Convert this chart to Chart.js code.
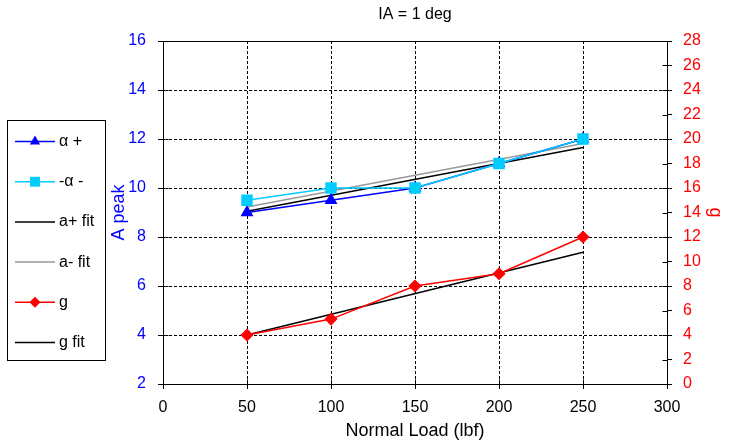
<!DOCTYPE html>
<html>
<head>
<meta charset="utf-8">
<script src="https://cdn.jsdelivr.net/npm/chart.js@4/dist/chart.umd.min.js"></script>
<style>
  html, body { margin: 0; padding: 0; background: #fff; }
  #wrap { width: 729px; height: 442px; }
</style>
</head>
<body>
<div id="wrap"><canvas id="c" width="729" height="442"></canvas></div>
<script>
// Measured peaks versus normal load
const loads = [50, 100, 150, 200, 250];
const alphaPlus = [9, 9.5, 10, 11, 12];
const alphaMinus = [9.5, 10, 10, 11, 12];
const gValues = [4, 5.3, 8, 9, 12];

// Straight-line fits, given at their end loads
const fitLoads = [50, 250];
const alphaPlusFit = [9.05, 11.65];
const alphaMinusFit = [9.22, 11.82];
const gFit = [4, 10.75];

// Axis tick settings
const xTicks = { min: 0, max: 300, step: 50 };
const leftTicks = { min: 2, max: 16, step: 2 };
const rightTicks = { min: 0, max: 28, step: 2 };

const FONT = "'Liberation Sans', Arial, sans-serif";

const pts = (xs, ys) => xs.map((x, i) => ({ x, y: ys[i] }));

function drawMarker(ctx, style, x, y, r, color) {
  ctx.save();
  ctx.fillStyle = color;
  ctx.beginPath();
  if (style === 'triangle') {
    ctx.moveTo(x, y - r);
    ctx.lineTo(x + r * Math.sin(2 * Math.PI / 3), y - r * Math.cos(2 * Math.PI / 3));
    ctx.lineTo(x + r * Math.sin(4 * Math.PI / 3), y - r * Math.cos(4 * Math.PI / 3));
    ctx.closePath();
  } else if (style === 'rect') {
    const s = r * Math.SQRT1_2;
    ctx.rect(x - s, y - s, 2 * s, 2 * s);
  } else if (style === 'rectRot') {
    ctx.moveTo(x, y - r); ctx.lineTo(x + r, y); ctx.lineTo(x, y + r); ctx.lineTo(x - r, y);
    ctx.closePath();
  }
  ctx.fill();
  ctx.restore();
}

// Solid frame round the plot and ticks that cross each axis line
const framePlugin = {
  id: 'frame',
  beforeDatasetsDraw(chart) {
    const { ctx, chartArea: a } = chart;
    ctx.save();
    ctx.strokeStyle = '#000';
    ctx.lineWidth = 1;
    const l = Math.round(a.left) + 0.5, t = Math.round(a.top) + 0.5;
    const r = Math.round(a.right) + 0.5, b = Math.round(a.bottom) + 0.5;
    ctx.strokeRect(l, t, r - l, b - t);
    ctx.beginPath();
    chart.scales.x.ticks.forEach(tk => {
      const px = Math.round(chart.scales.x.getPixelForValue(tk.value)) + 0.5;
      ctx.moveTo(px, b); ctx.lineTo(px, b - 5);
    });
    chart.scales.y.ticks.forEach(tk => {
      const py = Math.round(chart.scales.y.getPixelForValue(tk.value)) + 0.5;
      ctx.moveTo(l, py); ctx.lineTo(l + 5, py);
    });
    chart.scales.y2.ticks.forEach(tk => {
      const py = Math.round(chart.scales.y2.getPixelForValue(tk.value)) + 0.5;
      ctx.moveTo(r, py); ctx.lineTo(r - 5, py);
    });
    ctx.stroke();
    ctx.restore();
  }
};

// Boxed legend at the left side
const legendPlugin = {
  id: 'boxLegend',
  afterDraw(chart) {
    const { ctx } = chart;
    ctx.save();
    ctx.strokeStyle = '#000';
    ctx.lineWidth = 1;
    ctx.strokeRect(7.5, 120.5, 98, 240);
    ctx.font = '16px ' + FONT;
    ctx.textBaseline = 'middle';
    ctx.textAlign = 'left';
    chart.data.datasets.forEach((ds, i) => {
      const y = 141.5 + i * 40.2;
      ctx.strokeStyle = ds.borderColor;
      ctx.lineWidth = ds.borderWidth;
      ctx.beginPath();
      ctx.moveTo(15, y); ctx.lineTo(55, y);
      ctx.stroke();
      if (ds.pointRadius > 0) drawMarker(ctx, ds.pointStyle, 35, y, ds.pointRadius, ds.pointBackgroundColor);
      ctx.fillStyle = '#000';
      ctx.fillText(ds.label, 59, y);
    });
    ctx.restore();
  }
};

const tickFont = { family: FONT, size: 16 };

new Chart(document.getElementById('c'), {
  type: 'line',
  data: {
    datasets: [
      { label: 'α +', data: pts(loads, alphaPlus), yAxisID: 'y', borderColor: '#0000FF', backgroundColor: '#0000FF',
        pointBackgroundColor: '#0000FF', pointBorderColor: '#0000FF', borderWidth: 1.5, pointStyle: 'triangle', pointRadius: 6, order: 1 },
      { label: '-α -', data: pts(loads, alphaMinus), yAxisID: 'y', borderColor: '#00CCFF', backgroundColor: '#00CCFF',
        pointBackgroundColor: '#00CCFF', pointBorderColor: '#00CCFF', borderWidth: 1.5, pointStyle: 'rect', pointRadius: 7, order: 0 },
      { label: 'a+ fit', data: pts(fitLoads, alphaPlusFit), yAxisID: 'y', borderColor: '#000000',
        borderWidth: 1.5, pointRadius: 0, order: 3 },
      { label: 'a- fit', data: pts(fitLoads, alphaMinusFit), yAxisID: 'y', borderColor: '#999999',
        borderWidth: 1.5, pointRadius: 0, order: 4 },
      { label: 'g', data: pts(loads, gValues), yAxisID: 'y2', borderColor: '#FF0000', backgroundColor: '#FF0000',
        pointBackgroundColor: '#FF0000', pointBorderColor: '#FF0000', borderWidth: 1.5, pointStyle: 'rectRot', pointRadius: 5.5, order: 2 },
      { label: 'g fit', data: pts(fitLoads, gFit), yAxisID: 'y2', borderColor: '#000000',
        borderWidth: 1.5, pointRadius: 0, order: 5 }
    ]
  },
  options: {
    responsive: false,
    animation: false,
    devicePixelRatio: 1,
    layout: { padding: { left: 105, right: 0, top: 0, bottom: 0 }, autoPadding: false },
    elements: { line: { tension: 0, fill: false }, point: { borderWidth: 1, hoverRadius: 6 } },
    plugins: {
      legend: { display: false },
      tooltip: { enabled: false },
      title: { display: true, text: 'IA = 1 deg', fullSize: false, color: '#000',
        font: { family: FONT, size: 16, weight: 'normal' }, padding: { top: 5, bottom: 16.8 } }
    },
    scales: {
      x: {
        type: 'linear', position: 'bottom', min: xTicks.min, max: xTicks.max,
        ticks: { stepSize: xTicks.step, color: '#000', font: tickFont, padding: 9, maxRotation: 0 },
        grid: { color: '#000', lineWidth: 1, tickLength: 5, tickColor: '#000', tickBorderDash: [] },
        border: { display: true, color: '#000', width: 1, dash: [3, 2] },
        title: { display: true, text: 'Normal Load (lbf)', color: '#000', font: { family: FONT, size: 18 }, padding: { top: 0, bottom: 0 } },
        afterFit(s) { s.height = 58; }
      },
      y: {
        type: 'linear', position: 'left', min: leftTicks.min, max: leftTicks.max,
        ticks: { stepSize: leftTicks.step, color: '#0000FF', font: tickFont, padding: 12 },
        grid: { color: '#000', lineWidth: 1, tickLength: 5, tickColor: '#000', tickBorderDash: [] },
        border: { display: true, color: '#000', width: 1, dash: [3, 2] },
        title: { display: true, text: 'A peak', color: '#0000FF', font: { family: FONT, size: 18 }, padding: { top: 3, bottom: 0 } },
        afterFit(s) { s.width = 58; }
      },
      y2: {
        type: 'linear', position: 'right', min: rightTicks.min, max: rightTicks.max,
        ticks: { stepSize: rightTicks.step, color: '#FF0000', font: tickFont, padding: 11 },
        grid: { drawOnChartArea: false, color: '#000', tickLength: 5, tickColor: '#000' },
        border: { display: true, color: '#000', width: 1 },
        title: { display: true, text: 'g', color: '#FF0000', font: { family: FONT, size: 18 }, padding: { top: 3, bottom: 0 } },
        afterFit(s) { s.width = 62; }
      }
    }
  },
  plugins: [framePlugin, legendPlugin]
});
</script>
</body>
</html>
